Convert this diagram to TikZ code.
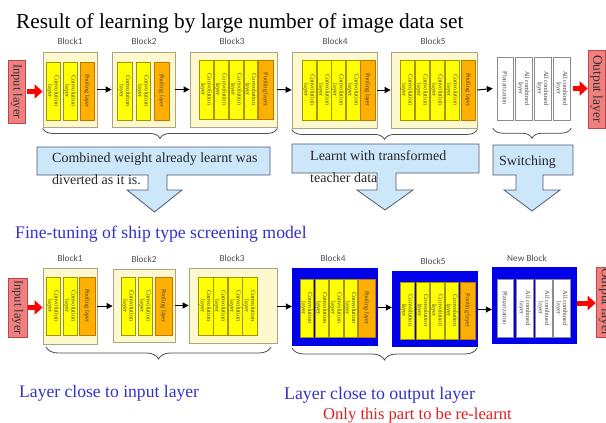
\documentclass[tikz,border=0pt]{standalone}
\usepackage{fontspec}
\setmainfont{Liberation Serif}
\newfontfamily\lblfont{Carlito}
\usetikzlibrary{decorations.pathreplacing,arrows.meta,calc}

\definecolor{blockbg}{RGB}{253,248,205}
\definecolor{blockbd}{RGB}{170,165,130}
\definecolor{convfill}{RGB}{255,255,0}
\definecolor{convbd}{RGB}{160,150,0}
\definecolor{poolfill}{RGB}{255,175,0}
\definecolor{poolbd}{RGB}{190,120,0}
\definecolor{iofill}{RGB}{240,128,128}
\definecolor{iobd}{RGB}{190,70,70}
\definecolor{callfill}{RGB}{204,230,250}
\definecolor{callbd}{RGB}{80,90,110}
\definecolor{txtblue}{RGB}{50,50,200}
\definecolor{txtred}{RGB}{225,30,30}
\definecolor{newblue}{RGB}{0,0,235}
\definecolor{lblgray}{RGB}{80,80,80}

% box: name, style, x1, y1, x2, y2
\newcommand\mkbox[6]{\node[#2, inner sep=0pt, minimum width={(#5-#3)*1pt}, minimum height={(#6-#4)*1pt}] (#1) at ({(#3+#5)/2},{(#4+#6)/2}) {};}
% rotated layer: name, style, x1, x2, y1, y2, text
\newcommand\mklayer[7]{\node[#2, minimum width={(#6-#5)*1pt}, minimum height={(#4-#3)*1pt}] (#1) at ({(#3+#4)/2},{(#5+#6)/2}) {#7};}

\begin{document}
\begin{tikzpicture}[x=1pt,y=-1pt,
  blockbox/.style={draw=blockbd, fill=blockbg, line width=0.8pt},
  bluebox/.style={draw=newblue, fill=newblue},
  hidebox/.style={},
  lay/.style={rotate=-90, inner sep=0pt, align=center, font=\fontsize{6.3}{6.2}\selectfont, text=black!75, line width=0.6pt},
  conv/.style={lay, draw=convbd, fill=convfill},
  pool/.style={lay, draw=poolbd, fill=poolfill},
  fc/.style={lay, draw=black!45, fill=white},
  iobox/.style={rotate=-90, inner sep=0pt, draw=iobd, fill=iofill, line width=0.6pt, font=\fontsize{12.5}{12.5}\selectfont, text=black!80},
  lbl/.style={font=\lblfont\fontsize{9.3}{10}\selectfont, text=lblgray, inner sep=0pt},
  arr/.style={line width=1pt, -{Triangle[length=6pt,width=6pt]}},
  redarr/.style={draw=red, line width=5pt, -{Triangle[length=8pt,width=14pt]}, red},
  brace/.style={draw=black!70, line width=0.8pt, decorate, decoration={brace, mirror, amplitude=10pt}},
  bigbrace/.style={draw=black!70, line width=0.8pt, decorate, decoration={brace, mirror, amplitude=12pt}},
  callout/.style={draw=callbd, fill=callfill, line width=0.8pt},
  calltext/.style={font=\fontsize{14}{16}\selectfont, text=black!85, inner sep=0pt, anchor=base west},
  bigtext/.style={inner sep=0pt, anchor=base west}
]
\fill[white] (0,0) rectangle (606,423);
\useasboundingbox (0,0) rectangle (606,423);

% ---------- title ----------
\node[bigtext, font=\fontsize{21.3}{24}\selectfont] (title) at (16,28) {Result of learning by large number of image data set};

% ---------- top row ----------
\mkbox{t1}{blockbox}{43}{52}{97}{127}
\mkbox{t2}{blockbox}{112}{52}{175}{127}
\mkbox{t3}{blockbox}{190}{52}{277}{127}
\mkbox{t4}{blockbox}{292}{52}{377}{128}
\mkbox{t5}{blockbox}{391}{52}{477}{128}
\mkbox{tw}{hidebox}{493}{52}{571}{125}

\node[lbl] (lt1) at (70,41) {Block1};
\node[lbl] (lt2) at (144,41) {Block2};
\node[lbl] (lt3) at (232,41) {Block3};
\node[lbl] (lt4) at (335,41) {Block4};
\node[lbl] (lt5) at (433,41) {Block5};

\mklayer{t1a}{conv}{46}{60}{62}{120}{Convolution\\layer}
\mklayer{t1b}{conv}{63}{77}{62}{120}{Convolution\\layer}
\mklayer{t1c}{pool}{80}{94}{62}{120}{Pooling layer}

\mklayer{t2a}{conv}{117}{132}{62}{120}{Convolution\\layer}
\mklayer{t2b}{conv}{136}{150}{62}{120}{Convolution\\layer}
\mklayer{t2c}{pool}{154}{169}{62}{120}{Pooling layer}

\mklayer{t3a}{conv}{199}{213}{60}{119}{Convolution\\layer}
\mklayer{t3b}{conv}{214}{228}{60}{119}{Convolution\\layer}
\mklayer{t3c}{conv}{229}{243}{60}{119}{Convolution\\layer}
\mklayer{t3d}{conv}{244}{257}{60}{119}{Convolution\\layer}
\mklayer{t3e}{pool}{258}{273}{60}{119}{Pooling layer}

\mklayer{t4a}{conv}{302}{316}{60}{120}{Convolution\\layer}
\mklayer{t4b}{conv}{317}{331}{60}{120}{Convolution\\layer}
\mklayer{t4c}{conv}{331}{345}{60}{120}{Convolution\\layer}
\mklayer{t4d}{conv}{346}{360}{60}{120}{Convolution\\layer}
\mklayer{t4e}{pool}{360}{375}{60}{120}{Pooling layer}

\mklayer{t5a}{conv}{400}{414}{60}{120}{Convolution\\layer}
\mklayer{t5b}{conv}{415}{429}{60}{120}{Convolution\\layer}
\mklayer{t5c}{conv}{430}{444}{60}{120}{Convolution\\layer}
\mklayer{t5d}{conv}{445}{459}{60}{120}{Convolution\\layer}
\mklayer{t5e}{pool}{461}{475}{60}{120}{Pooling layer}

\mklayer{twa}{fc}{497}{513}{57}{120}{Planarization}
\mklayer{twb}{fc}{515}{532}{57}{120}{All combined\\layer}
\mklayer{twc}{fc}{534}{551}{57}{120}{All combined\\layer}
\mklayer{twd}{fc}{553}{570}{57}{120}{All combined\\layer}

\mklayer{in1}{iobox}{8}{25}{60}{123}{Input layer}
\mklayer{out1}{iobox, font=\fontsize{13.5}{13.5}\selectfont}{588}{605}{50}{128}{Output layer}

\draw[redarr] ([xshift=2pt]in1.north) -- (in1.north -| t1.west);
\draw[arr] (t1.east) -- (t2.west);
\draw[arr] (t2.east) -- (t3.west);
\draw[arr] (t3.east) -- (t4.west);
\draw[arr] (t4.east) -- (t5.west);
\draw[arr] (t5.east) -- (tw.west);
\draw[redarr] ([xshift=2pt]tw.east) -- (tw.east -| out1.south);

\draw[brace] ([yshift=-1pt]t1.south west) -- ([yshift=-1pt]t3.south east);
\draw[brace] ([yshift=-1pt]t4.south west) -- ([yshift=-1pt]t5.south east);
\draw[brace] ([yshift=-3pt]tw.south west) -- ([yshift=-3pt]tw.south east);

% ---------- callouts ----------
\draw[callout] (37,147) -- (270,147) -- (270,175) -- (167,175) -- (167,190) -- (182,190) -- (154.5,212) -- (127,190) -- (148,190) -- (148,175) -- (37,175) -- cycle;
\node[calltext] (c1a) at (52,162) {Combined weight already learnt was};
\node[calltext] (c1b) at (52,184) {diverted as it is.};

\draw[callout] (292,144) -- (479,144) -- (479,173) -- (396,173) -- (396,190) -- (413,190) -- (385,210) -- (357,190) -- (377,190) -- (377,173) -- (292,173) -- cycle;
\node[calltext] (c2a) at (310,160) {Learnt with transformed};
\node[calltext] (c2b) at (310,182) {teacher data};

\draw[callout] (493,145) -- (573,145) -- (573,175) -- (543,175) -- (543,190) -- (560,190) -- (532,211) -- (504,190) -- (516,190) -- (516,175) -- (493,175) -- cycle;
\node[calltext] (c3a) at (499,165) {Switching};

\node[bigtext, font=\fontsize{17.7}{20}\selectfont, text=txtblue] (fine) at (15,238) {Fine-tuning of ship type screening model};

% ---------- bottom row ----------
\mkbox{b1}{blockbox}{43}{268}{97}{344}
\mkbox{b2}{blockbox}{113}{269}{175}{342}
\mkbox{b3}{blockbox}{189}{268}{277}{343}
\mkbox{b4}{bluebox}{292}{268}{377}{345}
\mkbox{b5}{bluebox}{392}{271}{477}{346}
\mkbox{nb}{bluebox}{492}{267}{576}{343}

\node[lbl] (lb1) at (70,258) {Block1};
\node[lbl] (lb2) at (144,259) {Block2};
\node[lbl] (lb3) at (232,258) {Block3};
\node[lbl] (lb4) at (333,258) {Block4};
\node[lbl] (lb5) at (433,261) {Block5};
\node[lbl] (lb6) at (527,258) {New Block};

\mklayer{b1a}{conv}{46}{60}{277}{335}{Convolution\\layer}
\mklayer{b1b}{conv}{63}{77}{277}{335}{Convolution\\layer}
\mklayer{b1c}{pool}{79}{95}{277}{335}{Pooling layer}

\mklayer{b2a}{conv}{121}{135}{277}{335}{Convolution\\layer}
\mklayer{b2b}{conv}{138}{152}{277}{335}{Convolution\\layer}
\mklayer{b2c}{pool}{155}{172}{277}{335}{Pooling layer}

\mklayer{b3a}{conv}{198}{213}{277}{335}{Convolution\\layer}
\mklayer{b3b}{conv}{213}{227}{277}{335}{Convolution\\layer}
\mklayer{b3c}{conv}{228}{242}{277}{335}{Convolution\\layer}
\mklayer{b3d}{conv}{242}{257}{277}{335}{Convolution\\layer}

\mklayer{b4a}{conv}{300}{313}{279}{337}{Convolution\\layer}
\mklayer{b4b}{conv}{315}{328}{279}{337}{Convolution\\layer}
\mklayer{b4c}{conv}{329}{343}{279}{337}{Convolution\\layer}
\mklayer{b4d}{conv}{344}{357}{279}{337}{Convolution\\layer}
\mklayer{b4e}{pool}{358}{375}{279}{337}{Pooling layer}

\mklayer{b5a}{conv}{400}{414}{282}{339}{Convolution\\layer}
\mklayer{b5b}{conv}{416}{429}{282}{339}{Convolution\\layer}
\mklayer{b5c}{conv}{430}{444}{282}{339}{Convolution\\layer}
\mklayer{b5d}{conv}{445}{458}{282}{339}{Convolution\\layer}
\mklayer{b5e}{pool}{460}{475}{282}{339}{Pooling layer}

\mklayer{nba}{fc}{497}{513}{279}{337}{Planarization}
\mklayer{nbb}{fc}{516}{533}{279}{337}{All combined\\layer}
\mklayer{nbc}{fc}{535}{552}{279}{337}{All combined\\layer}
\mklayer{nbd}{fc}{553}{570}{279}{337}{All combined\\layer}

\mklayer{in2}{iobox}{8}{27}{278}{337}{Input layer}
\mklayer{out2}{iobox, font=\fontsize{13.5}{13.5}\selectfont}{596}{614}{267}{337}{Output layer}

\draw[redarr] ([xshift=1pt]in2.north) -- (in2.north -| b1.west);
\draw[arr] (b1.east) -- (b1.east -| b2.west);
\draw[arr] (b2.east) -- (b2.east -| b3.west);
\draw[arr] ([yshift=-1pt]b3.east) -- ([yshift=-1pt]b3.east -| b4.west);
\draw[arr] ([yshift=-1pt]b4.east) -- ([yshift=-1pt]b4.east -| b5.west);
\draw[arr] ([yshift=-1pt]b5.east) -- ([yshift=-1pt]b5.east -| nb.west);
\draw[redarr] ([xshift=1pt,yshift=2pt]nb.east) -- ([yshift=2pt]nb.east -| out2.south);

\coordinate (br1a) at (46,347);
\coordinate (br1b) at (271,347);
\coordinate (br2a) at (292,348);
\coordinate (br2b) at (477,348);
\draw[bigbrace] (br1a) -- (br1b);
\draw[bigbrace] (br2a) -- (br2b);

\node[bigtext, font=\fontsize{17.6}{20}\selectfont, text=txtblue] (near-in) at (19,397) {Layer close to input layer};
\node[bigtext, font=\fontsize{17.8}{20}\selectfont, text=txtblue] (near-out) at (284,399) {Layer close to output layer};
\node[bigtext, font=\fontsize{16.6}{19}\selectfont, text=txtred] (relearn) at (323,419) {Only this part to be re-learnt};
\end{tikzpicture}
\end{document}
